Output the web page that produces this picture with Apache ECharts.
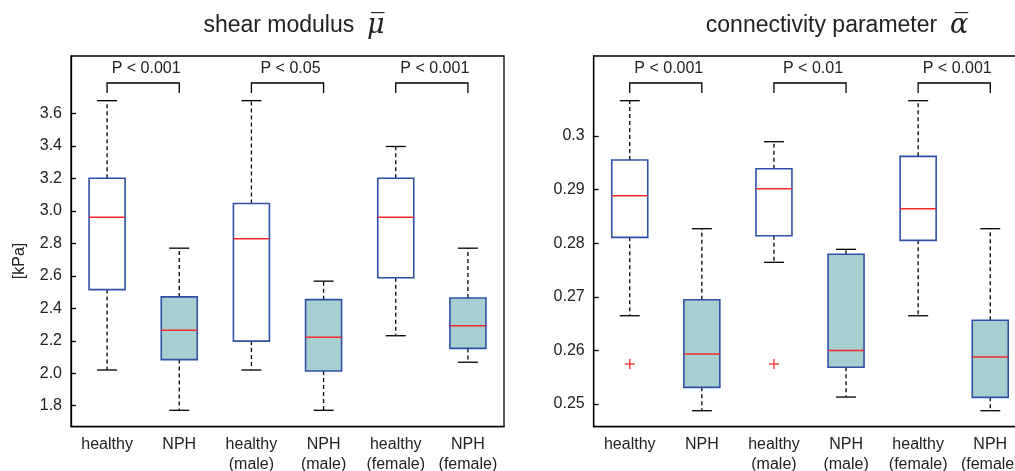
<!DOCTYPE html>
<html>
<head>
<meta charset="utf-8">
<script src="https://cdn.jsdelivr.net/npm/echarts@6/dist/echarts.min.js"></script>
<style>
  html, body { margin: 0; padding: 0; background: #fff; }
  #main { width: 1015px; height: 471px; }
</style>
</head>
<body>
<div id="main"></div>
<script>
var groups = ["healthy", "NPH", "healthy\n(male)", "NPH\n(male)", "healthy\n(female)", "NPH\n(female)"];

// each box: [min, q1, median, q3, max]
var shearBoxes = [
  [2.02, 2.515, 2.96, 3.2, 3.678],
  [1.772, 2.084, 2.264, 2.47, 2.77],
  [2.02, 2.198, 2.828, 3.045, 3.678],
  [1.772, 2.014, 2.221, 2.453, 2.567],
  [2.231, 2.588, 2.96, 3.2, 3.396],
  [2.068, 2.153, 2.292, 2.463, 2.77]
];
var alphaBoxes = [
  [0.26647, 0.2811, 0.28886, 0.29552, 0.30659],
  [0.24875, 0.25311, 0.25933, 0.26946, 0.28271],
  [0.27644, 0.2814, 0.29017, 0.2939, 0.29894],
  [0.2513, 0.25685, 0.26, 0.27793, 0.27886],
  [0.26647, 0.28054, 0.28644, 0.29621, 0.30659],
  [0.24875, 0.25125, 0.25877, 0.26562, 0.28271]
];
var alphaOutliers = [[0, 0.25746], [2, 0.25746]];

var shearTicks = [1.8, 2.0, 2.2, 2.4, 2.6, 2.8, 3.0, 3.2, 3.4, 3.6];
var alphaTicks = [0.25, 0.26, 0.27, 0.28, 0.29, 0.3];

var pairs = [[0, 1], [2, 3], [4, 5]];
var shearP = ["P < 0.001", "P < 0.05", "P < 0.001"];
var alphaP = ["P < 0.001", "P < 0.01", "P < 0.001"];

var FONT = "Liberation Sans";
var BOX_BLUE = "#2f50a6";
var BOX_FILL = "#a7cfd0";
var MED_RED = "#f22a2a";

function renderBox(params, api) {
  var i = api.value(0);
  var pMin = api.coord([i, api.value(1)]);
  var pQ1 = api.coord([i, api.value(2)]);
  var pMed = api.coord([i, api.value(3)]);
  var pQ3 = api.coord([i, api.value(4)]);
  var pMax = api.coord([i, api.value(5)]);
  var x = pMin[0];
  var hw = 18, cw = 10;
  var dash = { stroke: "#000", lineWidth: 1.3, lineDash: [4, 3] };
  var solid = { stroke: "#000", lineWidth: 1.3 };
  return {
    type: "group",
    children: [
      { type: "line", shape: { x1: x, y1: pQ3[1], x2: x, y2: pMax[1] }, style: dash },
      { type: "line", shape: { x1: x, y1: pQ1[1], x2: x, y2: pMin[1] }, style: dash },
      { type: "line", shape: { x1: x - cw, y1: pMax[1], x2: x + cw, y2: pMax[1] }, style: solid },
      { type: "line", shape: { x1: x - cw, y1: pMin[1], x2: x + cw, y2: pMin[1] }, style: solid },
      {
        type: "rect",
        shape: { x: x - hw, y: pQ3[1], width: hw * 2, height: pQ1[1] - pQ3[1] },
        style: { fill: i % 2 === 1 ? BOX_FILL : "#fff", stroke: BOX_BLUE, lineWidth: 1.6 }
      },
      { type: "line", shape: { x1: x - hw, y1: pMed[1], x2: x + hw, y2: pMed[1] }, style: { stroke: MED_RED, lineWidth: 1.5 } }
    ]
  };
}

function renderOutlier(params, api) {
  var p = api.coord([api.value(0), api.value(1)]);
  var s = 5;
  var st = { stroke: MED_RED, lineWidth: 1.3 };
  return {
    type: "group",
    children: [
      { type: "line", shape: { x1: p[0] - s, y1: p[1], x2: p[0] + s, y2: p[1] }, style: st },
      { type: "line", shape: { x1: p[0], y1: p[1] - s, x2: p[0], y2: p[1] + s }, style: st }
    ]
  };
}

function bracketRenderer(labels) {
  return function (params, api) {
    var a = api.coord([api.value(0), 0]);
    var b = api.coord([api.value(1), 0]);
    var top = params.coordSys.y;
    var yb = top + 27, yl = top + 37;
    return {
      type: "group",
      children: [
        {
          type: "polyline",
          shape: { points: [[a[0], yl], [a[0], yb], [b[0], yb], [b[0], yl]] },
          style: { stroke: "#000", lineWidth: 1.3, fill: null }
        },
        {
          type: "text",
          x: (a[0] + b[0]) / 2 + 3,
          y: top + 13,
          style: {
            text: labels[params.dataIndex],
            align: "center",
            verticalAlign: "middle",
            fontSize: 16,
            fontFamily: FONT,
            fill: "#222"
          }
        }
      ]
    };
  };
}

function xAxisFor(idx) {
  return {
    type: "category",
    gridIndex: idx,
    data: groups,
    axisLine: { lineStyle: { color: "#000", width: 1.3 } },
    axisTick: { inside: true, alignWithLabel: true, length: 5, lineStyle: { color: "#000", width: 1.3 } },
    axisLabel: { interval: 0, fontSize: 16, lineHeight: 20, margin: 8, color: "#222", fontFamily: FONT },
    splitLine: { show: false }
  };
}

function yAxisFor(idx, min, max, ticks, fmt) {
  return {
    type: "value",
    gridIndex: idx,
    min: min,
    max: max,
    axisLine: { show: true, lineStyle: { color: "#000", width: 1.3 } },
    axisTick: { show: true, inside: true, length: 5, customValues: ticks, lineStyle: { color: "#000", width: 1.3 } },
    axisLabel: { customValues: ticks, formatter: fmt, fontSize: 16, margin: 9, color: "#222", fontFamily: FONT },
    splitLine: { show: false }
  };
}

var chart = echarts.init(document.getElementById("main"));

var option = {
  animation: false,
  backgroundColor: "#fff",
  title: [
    {
      text: "shear modulus  {g|\u03bc\u0305}",
      left: 294,
      top: 12,
      textAlign: "center",
      padding: 0,
      textStyle: {
        fontSize: 23,
        fontWeight: "normal",
        fontFamily: FONT,
        color: "#222",
        rich: { g: { fontSize: 27, fontStyle: "italic", fontFamily: "DejaVu Serif", color: "#222" } }
      }
    },
    {
      text: "connectivity parameter  {g|\u03b1\u0305}",
      left: 837,
      top: 12,
      textAlign: "center",
      padding: 0,
      textStyle: {
        fontSize: 23,
        fontWeight: "normal",
        fontFamily: FONT,
        color: "#222",
        rich: { g: { fontSize: 27, fontStyle: "italic", fontFamily: "DejaVu Serif", color: "#222" } }
      }
    }
  ],
  graphic: [
    {
      type: "text",
      x: 20,
      y: 261,
      rotation: Math.PI / 2,
      style: { text: "[kPa]", align: "center", verticalAlign: "middle", fontSize: 16, fontFamily: FONT, fill: "#222" }
    }
  ],
  grid: [
    { left: 71, top: 56, width: 433, bottom: 44.3, outerBoundsMode: "none", show: true, borderColor: "#000", borderWidth: 1.3 },
    { left: 593.7, top: 56, width: 432.6, bottom: 44.3, outerBoundsMode: "none", show: true, borderColor: "#000", borderWidth: 1.3 }
  ],
  xAxis: [xAxisFor(0), xAxisFor(1)],
  yAxis: [
    yAxisFor(0, 1.671, 3.953, shearTicks, function (v) { return v.toFixed(1); }),
    yAxisFor(1, 0.24577, 0.31493, alphaTicks, function (v) { return String(+v.toFixed(2)); })
  ],
  series: [
    {
      type: "custom",
      xAxisIndex: 0,
      yAxisIndex: 0,
      renderItem: renderBox,
      encode: { x: 0, y: [1, 2, 3, 4, 5] },
      data: shearBoxes.map(function (b, i) { return [i].concat(b); })
    },
    {
      type: "custom",
      xAxisIndex: 1,
      yAxisIndex: 1,
      renderItem: renderBox,
      encode: { x: 0, y: [1, 2, 3, 4, 5] },
      data: alphaBoxes.map(function (b, i) { return [i].concat(b); })
    },
    {
      type: "custom",
      xAxisIndex: 1,
      yAxisIndex: 1,
      renderItem: renderOutlier,
      encode: { x: 0, y: 1 },
      data: alphaOutliers
    },
    {
      type: "custom",
      xAxisIndex: 0,
      yAxisIndex: 0,
      renderItem: bracketRenderer(shearP),
      encode: { x: [0, 1] },
      data: pairs
    },
    {
      type: "custom",
      xAxisIndex: 1,
      yAxisIndex: 1,
      renderItem: bracketRenderer(alphaP),
      encode: { x: [0, 1] },
      data: pairs
    }
  ]
};

chart.setOption(option);
</script>
</body>
</html>
